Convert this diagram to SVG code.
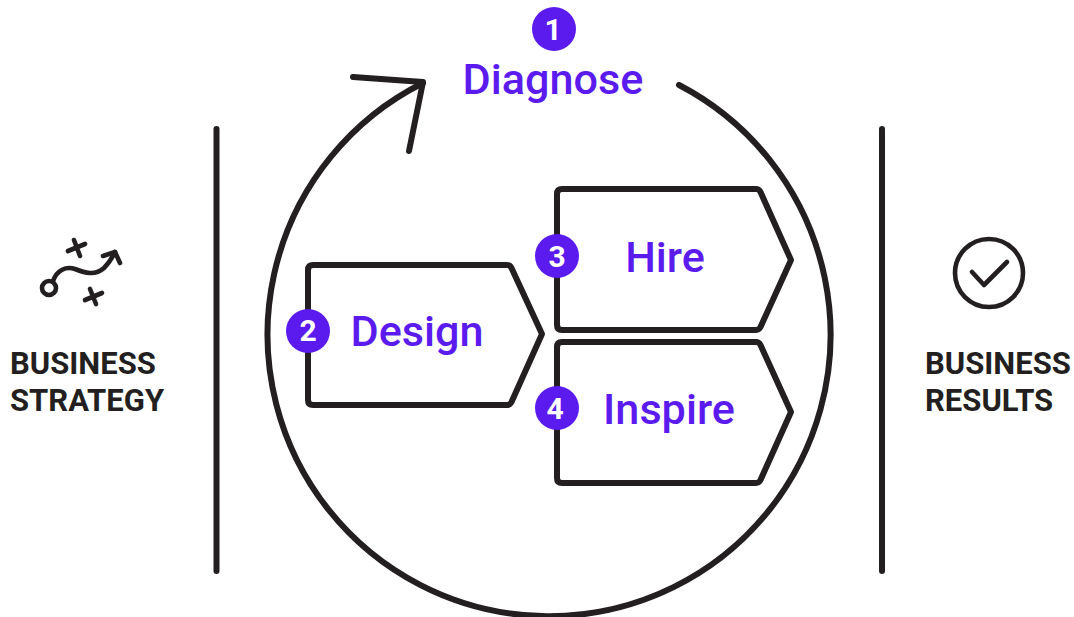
<svg xmlns="http://www.w3.org/2000/svg" width="1074" height="617" viewBox="0 0 1074 617">
<style>
.ln{fill:none;stroke:#231f20;stroke-width:6;stroke-linecap:round;stroke-linejoin:round}
.ic{fill:none;stroke:#231f20;stroke-width:4.6;stroke-linecap:round;stroke-linejoin:round}
.badge{fill:#5b1bef}
.num{font-family:Roboto,"Liberation Sans",sans-serif;font-weight:700;font-size:30px;fill:#fff;text-anchor:middle}
.lbl{font-family:Roboto,"Liberation Sans",sans-serif;font-weight:500;font-size:43.2px;fill:#5b1bef;text-anchor:middle}
.side{font-family:Roboto,"Liberation Sans",sans-serif;font-weight:700;font-size:31px;fill:#231f20}
</style>
<rect width="1074" height="617" fill="#fff"/>
<g id="connectors">
<path class="ln" d="M679,85 A281.5,281.5 0 1 1 423,83"/>
<path class="ln" d="M353,77 L423,82 L409,151"/>
<path class="ln" d="M216.500,129 V571"/>
<path class="ln" d="M882,129 V571"/>
</g>
<g id="node-diagnose">
<circle class="badge" cx="554" cy="29" r="22"/>
<text class="num" x="553" y="40">1</text>
<text class="lbl" x="553" y="94">Diagnose</text>
</g>
<g id="node-design">
<path class="ln" d="M313,265 H507 Q510,265 511.500,268 L542,334 L511.500,402 Q510,405 507,405 H313 Q308,405 308,400 V270 Q308,265 313,265 Z"/>
<circle class="badge" cx="308" cy="331" r="22"/>
<text class="num" x="308" y="341">2</text>
<text class="lbl" x="417" y="346">Design</text>
</g>
<g id="node-hire">
<path class="ln" d="M562,189 H756 Q759,189 760.500,192 L791,260 L760.500,327 Q759,330 756,330 H562 Q557,330 557,325 V194 Q557,189 562,189 Z"/>
<circle class="badge" cx="557" cy="256" r="22"/>
<text class="num" x="557" y="267">3</text>
<text class="lbl" x="665" y="272">Hire</text>
</g>
<g id="node-inspire">
<path class="ln" d="M562,342 H756 Q759,342 760.500,345 L791,412 L760.500,480 Q759,483 756,483 H562 Q557,483 557,478 V347 Q557,342 562,342 Z"/>
<circle class="badge" cx="557" cy="408" r="22"/>
<text class="num" x="555" y="419">4</text>
<text class="lbl" x="669" y="424">Inspire</text>
</g>
<g id="node-strategy">
<circle class="ic" cx="49" cy="288" r="7"/>
<path class="ic" d="M53,281 C57,270 66,266 75,269 C85,273 95,276 104,268 C109,263 112,258 115,252"/>
<path class="ic" d="M103,256 L115,252 L120,263"/>
<path class="ic" d="M74,240 L80,256 M68,251 L85,244"/>
<path class="ic" d="M90,289 L96,304 M85,300 L102,293"/>
<text class="side" x="10" y="374">BUSINESS</text>
<text class="side" x="10" y="411">STRATEGY</text>
</g>
<g id="node-results">
<circle class="ic" cx="989" cy="273" r="34"/>
<path class="ic" d="M972,272 L984,285 L1007,262"/>
<text class="side" x="925" y="374">BUSINESS</text>
<text class="side" x="925" y="411">RESULTS</text>
</g>
</svg>
